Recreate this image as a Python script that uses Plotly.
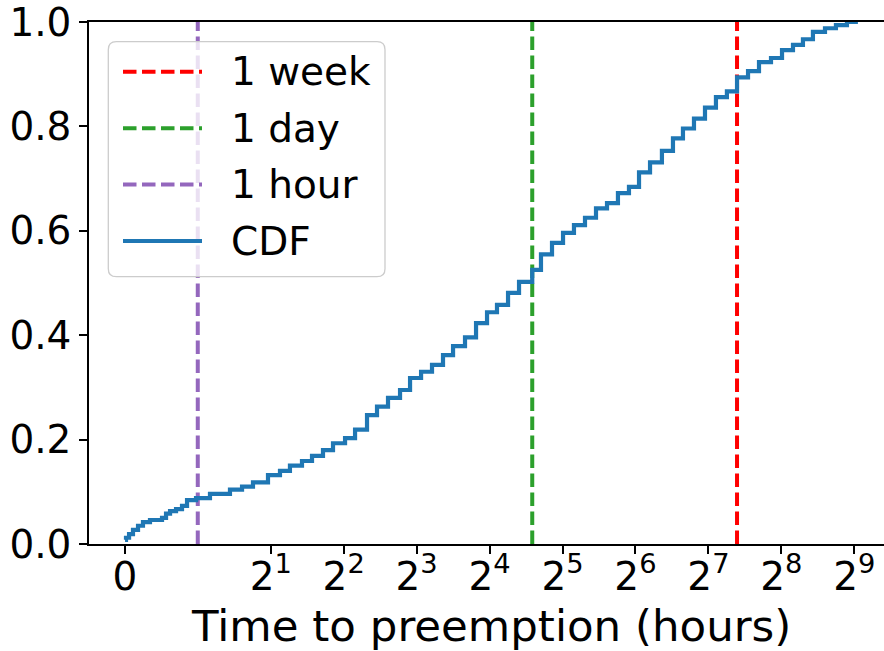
import numpy as np
import plotly.graph_objects as go

# Empirical CDF of time to preemption (hours -> cumulative fraction), step positions
hours = [0.003, 0.016, 0.058, 0.112, 0.181, 0.249, 0.345, 0.510, 0.565, 0.620,
         0.702, 0.784, 0.853, 0.976, 1.123, 1.358, 1.523, 1.690, 1.949, 2.184,
         2.401, 2.692, 2.961, 3.287, 3.615, 4.053, 4.457, 4.994, 5.491, 6.096,
         6.834, 7.516, 8.346, 9.260, 10.28, 11.31, 12.67, 14.07, 15.62, 17.17,
         19.07, 21.17, 24.0, 26.08, 28.96, 32.16, 35.68, 39.62, 43.99, 48.84,
         54.19, 60.17, 66.2, 73.5, 82.3, 91.4, 100.5, 111.6, 123.9, 137.5,
         152.6, 168.0, 186.5, 207.0, 232.0, 257.6, 285.9, 314.3, 345.6, 387.5,
         430.0, 477.4, 529.8]
cdf = [0.008, 0.012, 0.019, 0.027, 0.035, 0.042, 0.046, 0.050, 0.058, 0.063,
       0.067, 0.073, 0.084, 0.088, 0.096, 0.104, 0.110, 0.118, 0.132, 0.140,
       0.150, 0.159, 0.169, 0.180, 0.193, 0.203, 0.219, 0.247, 0.263, 0.280,
       0.295, 0.318, 0.330, 0.343, 0.362, 0.379, 0.396, 0.423, 0.444, 0.458,
       0.481, 0.502, 0.525, 0.555, 0.577, 0.596, 0.611, 0.625, 0.643, 0.653,
       0.672, 0.684, 0.712, 0.731, 0.753, 0.777, 0.796, 0.815, 0.836, 0.856,
       0.867, 0.894, 0.906, 0.923, 0.931, 0.946, 0.956, 0.967, 0.981, 0.988,
       0.994, 1.0, 1.0]

# Reference durations (hours)
ref_names = ["1 week", "1 day", "1 hour"]
ref_hours = [168, 24, 1]
ref_colors = ["#ff0000", "#2ca02c", "#9467bd"]
cdf_color = "#1f77b4"

tick_hours = [0, 2, 4, 8, 16, 32, 64, 128, 256, 512]
tick_text = ["0"] + [f"2<sup>{k}</sup>" for k in range(1, 10)]
y_ticks = [0.0, 0.2, 0.4, 0.6, 0.8, 1.0]


def symlog2(h):
    """Symmetric log (base 2) scale: linear on [0, 1], log2 above."""
    h = np.asarray(h, dtype=float)
    return np.where(h <= 1, h, 1 + np.log2(np.maximum(h, 1)))


W, H = 884, 651
L, T, R, B = 89, 22, 0, 107
PW, PH = W - L - R, H - T - B
FONT = "DejaVu Sans"
DASH = "13.5px,5.5px"


def px(x):
    return (x - L) / PW


def py(y):
    return (T + PH - y) / PH


fig = go.Figure()

for name, h, c in zip(ref_names, ref_hours, ref_colors):
    t = float(symlog2(h))
    fig.add_trace(go.Scatter(x=[t, t], y=[0, 1], mode="lines", name=name,
                             line=dict(color=c, width=4, dash=DASH),
                             hoverinfo="skip"))

fig.add_trace(go.Scatter(x=symlog2(hours), y=cdf, mode="lines", name="CDF",
                         line=dict(color=cdf_color, width=4.2, shape="hv")))

# Legend box (rounded, semi-transparent)
bx0, by0, bx1, by1, r = 108.3, 41.7, 385, 276.7, 8
rx, ry = r / PW, r / PH
X0, X1, Y0, Y1 = px(bx0), px(bx1), py(by0), py(by1)
path = (f"M{X0 + rx},{Y0} L{X1 - rx},{Y0} Q{X1},{Y0} {X1},{Y0 - ry} "
        f"L{X1},{Y1 + ry} Q{X1},{Y1} {X1 - rx},{Y1} L{X0 + rx},{Y1} "
        f"Q{X0},{Y1} {X0},{Y1 + ry} L{X0},{Y0 - ry} Q{X0},{Y0} {X0 + rx},{Y0} Z")
shapes = [dict(type="path", path=path, xref="paper", yref="paper", layer="above",
               fillcolor="rgba(255,255,255,0.8)",
               line=dict(color="#cccccc", width=1.3))]

legend_rows = [71.7, 128.3, 184.6, 241.0]
legend_labels = ref_names + ["CDF"]
legend_colors = ref_colors + [cdf_color]
annotations = []
for i, (yy, lab, col) in enumerate(zip(legend_rows, legend_labels, legend_colors)):
    dashed = i < 3
    shapes.append(dict(type="line", xref="paper", yref="paper", layer="above",
                       x0=px(123), x1=px(202), y0=py(yy), y1=py(yy),
                       line=dict(color=col, width=4 if dashed else 4.2,
                                 dash=DASH if dashed else "solid")))
    annotations.append(dict(text=lab, xref="paper", yref="paper", x=px(229), y=py(yy),
                            xanchor="left", yanchor="middle", showarrow=False,
                            font=dict(family=FONT, size=39, color="black")))

annotations.append(dict(text="Time to preemption (hours)", xref="paper", yref="paper",
                        x=px(491), y=py(626), xanchor="center", yanchor="middle",
                        showarrow=False, font=dict(family=FONT, size=43.5, color="black")))

fig.update_layout(
    width=W, height=H, autosize=False,
    margin=dict(l=L, r=R, t=T, b=B, pad=0),
    paper_bgcolor="white", plot_bgcolor="white",
    showlegend=False,
    font=dict(family=FONT, size=39, color="black"),
    shapes=shapes, annotations=annotations,
    xaxis=dict(range=[-0.491, 10.407], tickvals=symlog2(tick_hours).tolist(),
               ticktext=tick_text, ticks="outside", ticklen=8, tickwidth=1.5,
               tickcolor="black", showline=True, linecolor="black", linewidth=1.5,
               mirror=True, showgrid=False, zeroline=False, ticklabelstandoff=-11,
               ticklabeloverflow="allow",
               tickfont=dict(family=FONT, size=39, color="black")),
    yaxis=dict(range=[0, 1], tickvals=y_ticks, ticktext=[f"{v:.1f}" for v in y_ticks],
               ticks="outside", ticklen=8, tickwidth=1.5, tickcolor="black",
               showline=True, linecolor="black", linewidth=1.5, mirror=False,
               showgrid=False, zeroline=False, ticklabelstandoff=0,
               ticklabeloverflow="allow",
               tickfont=dict(family=FONT, size=39, color="black")),
)

fig.write_html("out.html")
